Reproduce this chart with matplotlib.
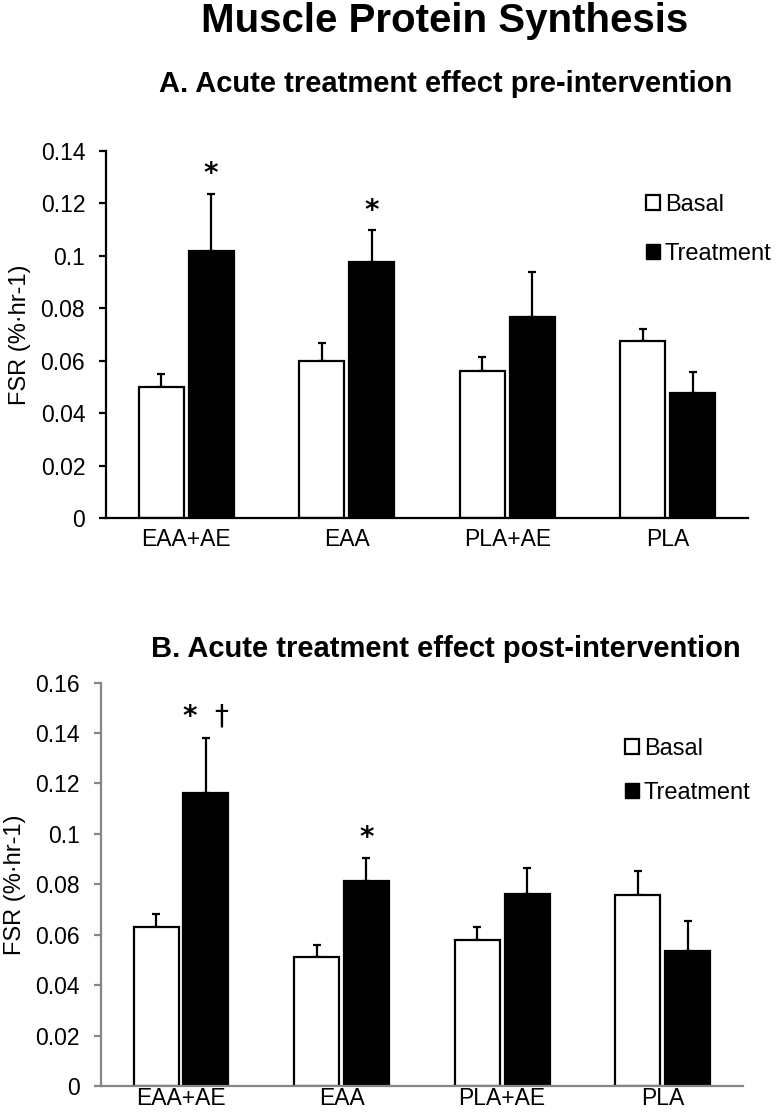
import matplotlib
matplotlib.use("Agg")
import matplotlib.pyplot as plt
from matplotlib.patches import Patch
import numpy as np

plt.rcParams['font.family'] = ['Liberation Sans', 'DejaVu Sans']
plt.rcParams['mathtext.fontset'] = 'dejavusans'

groups = ["EAA+AE", "EAA", "PLA+AE", "PLA"]

# panel A: pre-intervention
pre_basal = [0.050, 0.0597, 0.0561, 0.0677]
pre_basal_err = [0.0049, 0.0070, 0.0055, 0.0044]
pre_treat = [0.1019, 0.0976, 0.0768, 0.0476]
pre_treat_err = [0.0218, 0.0123, 0.0172, 0.0082]
pre_stars = ["$\\mathbf{*}$", "$\\mathbf{*}$", "", ""]

# panel B: post-intervention
post_basal = [0.0630, 0.0513, 0.0579, 0.0757]
post_basal_err = [0.0051, 0.0045, 0.0053, 0.0096]
post_treat = [0.1164, 0.0815, 0.0762, 0.0536]
post_treat_err = [0.0218, 0.0091, 0.0104, 0.0120]
post_stars = ["$\\mathbf{*}$  \u2020", "$\\mathbf{*}$", "", ""]


def draw_panel(ax, basal, basal_err, treat, treat_err, stars, ymax, spine_col,
               leg_anchor, leg_spacing, xpad):
    x = np.arange(len(groups))
    w = 0.28
    off = 0.155
    ax.bar(x - off, basal, w, color="white", edgecolor="black", linewidth=1.6, zorder=2)
    ax.bar(x + off, treat, w, color="black", edgecolor="black", linewidth=1.6, zorder=2)
    ax.errorbar(x - off, basal, yerr=[np.zeros(len(basal)), basal_err], fmt="none",
                ecolor="black", elinewidth=1.6, capsize=2.7, capthick=1.6, zorder=1)
    ax.errorbar(x + off, treat, yerr=[np.zeros(len(treat)), treat_err], fmt="none",
                ecolor="black", elinewidth=1.6, capsize=2.7, capthick=1.6, zorder=1)
    # significance marks above the treatment error bars
    for i, s in enumerate(stars):
        if s:
            ax.annotate(s, (x[i] + off, treat[i] + treat_err[i]), xytext=(0, 9.6),
                        textcoords="offset points", ha="center", va="baseline",
                        fontsize=20, family="DejaVu Sans")

    ax.set_xlim(-0.5, 3.5)
    ax.set_ylim(0, ymax)
    ax.set_yticks(np.arange(0, ymax + 1e-9, 0.02))
    ax.yaxis.set_major_formatter(plt.FuncFormatter(lambda v, p: f"{v:g}"))
    ax.set_xticks(x)
    ax.set_xticklabels(groups)
    for s in ["top", "right"]:
        ax.spines[s].set_visible(False)
    for s in ["left", "bottom"]:
        ax.spines[s].set_color(spine_col)
        ax.spines[s].set_linewidth(1.6)
    ax.tick_params(axis="y", length=5, width=1.6, color=spine_col, pad=10, labelsize=16.5)
    ax.tick_params(axis="x", length=0, pad=xpad, labelsize=16.5)
    ax.set_ylabel("FSR (%\u00b7hr-1)", fontsize=17, labelpad=7)

    handles = [Patch(facecolor="white", edgecolor="black", linewidth=1.6, label="Basal"),
               Patch(facecolor="black", edgecolor="black", label="Treatment")]
    ax.legend(handles=handles, loc="upper left", bbox_to_anchor=leg_anchor,
              bbox_transform=ax.figure.transFigure, frameon=False, fontsize=17,
              handlelength=0.6, handleheight=0.6, handletextpad=0.2,
              labelspacing=leg_spacing, borderpad=0, borderaxespad=0)


fig = plt.figure(figsize=(7.8, 11.17), dpi=100)
ax1 = fig.add_axes([0.1359, 0.5363, 0.8231, 0.3285])
ax2 = fig.add_axes([0.1291, 0.02775, 0.8235, 0.3611])

draw_panel(ax1, pre_basal, pre_basal_err, pre_treat, pre_treat_err, pre_stars,
           0.14, "black", (0.828, 0.8266), 1.17, 7)
draw_panel(ax2, post_basal, post_basal_err, post_treat, post_treat_err, post_stars,
           0.16, "#868686", (0.801, 0.3395), 0.95, 1)

fig.text(0.5705, 0.9714, "Muscle Protein Synthesis", ha="center", va="baseline",
         fontsize=29, fontweight="bold")
fig.text(0.5712, 0.9176, "A. Acute treatment effect pre-intervention", ha="center",
         va="baseline", fontsize=21, fontweight="bold")
fig.text(0.5712, 0.4118, "B. Acute treatment effect post-intervention", ha="center",
         va="baseline", fontsize=21, fontweight="bold")

fig.savefig("out.png", dpi=100)
